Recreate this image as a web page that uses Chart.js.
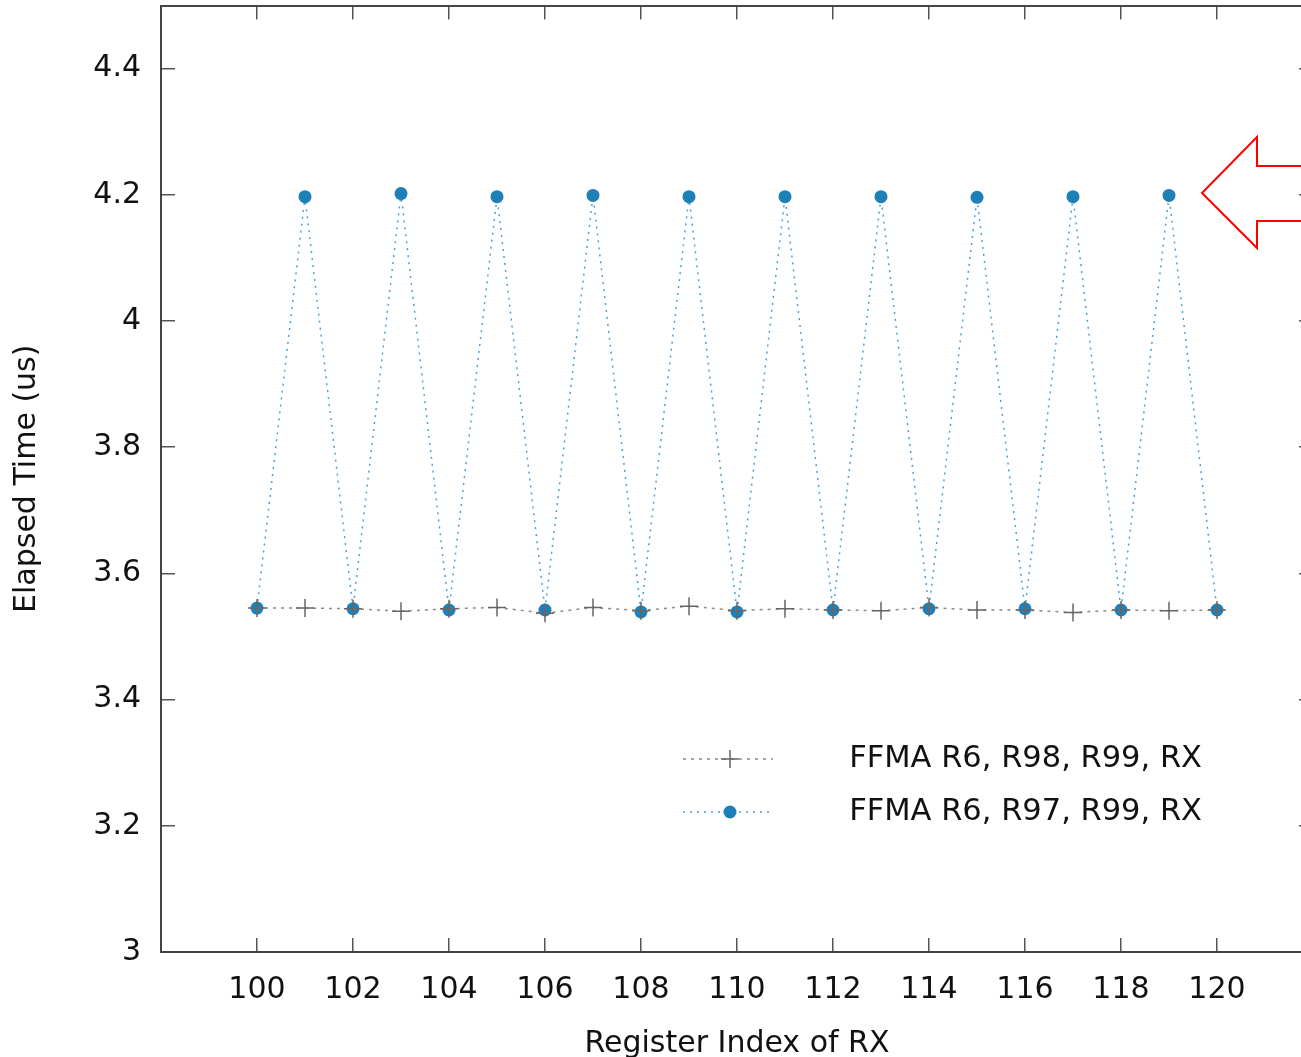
<!DOCTYPE html>
<html>
<head>
<meta charset="utf-8">
<script src="https://cdn.jsdelivr.net/npm/chart.js@4.4.0/dist/chart.umd.min.js"></script>
<style>
  html, body { margin: 0; padding: 0; overflow: hidden; background: #fff; }
  #wrap { width: 1330px; height: 1062px; margin-top: -5px; }
</style>
</head>
<body>
<div id="wrap"><canvas id="myChart"></canvas></div>
<script>
// register index on the x axis
const registers = [100, 101, 102, 103, 104, 105, 106, 107, 108, 109, 110,
                   111, 112, 113, 114, 115, 116, 117, 118, 119, 120]
// FFMA R6, R98, R99, RX
const timeR98 = [3.545, 3.545, 3.544, 3.540, 3.544, 3.546, 3.537, 3.546, 3.541, 3.548, 3.541,
                 3.544, 3.542, 3.541, 3.546, 3.542, 3.542, 3.538, 3.542, 3.541, 3.542]
// FFMA R6, R97, R99, RX
const timeR97 = [3.545, 4.197, 3.544, 4.202, 3.542, 4.197, 3.542, 4.199, 3.539, 4.197, 3.539,
                 4.197, 3.542, 4.197, 3.544, 4.196, 3.544, 4.197, 3.542, 4.199, 3.542]
const seriesNames = ['FFMA R6, R98, R99, RX', 'FFMA R6, R97, R99, RX']
const xTicks = [100, 102, 104, 106, 108, 110, 112, 114, 116, 118, 120]
const yTicks = [3, 3.2, 3.4, 3.6, 3.8, 4, 4.2, 4.4]

const font = { family: 'DejaVu Sans', size: 30 }
const textColor = '#111'
const axisColor = '#555'
const grayLine = '#8c8c8c'
const grayMark = '#666'
const blueLine = '#4b9fd2'
const blueMark = '#1f7fb8'

const pts = (ys) => registers.map((x, i) => ({ x: x, y: ys[i] }))

function axisGrid() {
    return { display: true, drawOnChartArea: false, drawTicks: true, tickLength: -14, color: axisColor, lineWidth: 1.5 }
}
const border = { display: true, color: '#444', width: 2 }

function fixW(w) {
    return s => { s.width = w; s.paddingTop = 0; s.paddingBottom = 0 }
}
function fixH(h) {
    return s => { s.height = h; s.paddingLeft = 0; s.paddingRight = 0 }
}

// legend inside the plot + the red arrow, drawn on top
const overlay = {
    id: 'overlay',
    afterDraw(chart) {
        const ctx = chart.ctx
        ctx.save()
        ctx.translate(0, 5) // canvas is shifted up 5px by css
        const rows = [
            { y: 759, line: grayLine, mark: 'cross', dash: [3, 5] },
            { y: 812, line: blueLine, mark: 'dot', dash: [2, 5] },
        ]
        rows.forEach((r, i) => {
            ctx.setLineDash(r.dash)
            ctx.strokeStyle = r.line
            ctx.lineWidth = 1.5
            ctx.beginPath()
            ctx.moveTo(683, r.y)
            ctx.lineTo(773, r.y)
            ctx.stroke()
            ctx.setLineDash([])
            if (r.mark === 'cross') {
                ctx.strokeStyle = grayMark
                ctx.beginPath()
                ctx.moveTo(721, r.y); ctx.lineTo(739, r.y)
                ctx.moveTo(730, r.y - 9); ctx.lineTo(730, r.y + 9)
                ctx.stroke()
            } else {
                ctx.fillStyle = blueMark
                ctx.beginPath()
                ctx.arc(730, r.y, 6.5, 0, Math.PI * 2)
                ctx.fill()
            }
            ctx.fillStyle = textColor
            ctx.font = '30.5px "DejaVu Sans"'
            ctx.textAlign = 'right'
            ctx.textBaseline = 'middle'
            ctx.fillText(seriesNames[i], 1202, r.y)
        })
        // red outline arrow
        ctx.strokeStyle = '#ff0000'
        ctx.lineWidth = 2
        ctx.beginPath()
        ctx.moveTo(1340, 166)
        ctx.lineTo(1257, 166)
        ctx.lineTo(1257, 137)
        ctx.lineTo(1202, 193)
        ctx.lineTo(1257, 248)
        ctx.lineTo(1257, 221)
        ctx.lineTo(1340, 221)
        ctx.stroke()
        ctx.restore()
    }
}

const chart = new Chart(document.getElementById('myChart'), {
    type: 'line',
    data: {
        datasets: [{
            label: seriesNames[0],
            data: pts(timeR98),
            borderColor: grayLine,
            borderWidth: 1.5,
            borderDash: [3, 5],
            pointStyle: 'cross',
            pointRadius: 9,
            pointBorderColor: grayMark,
            pointBorderWidth: 1.5,
            tension: 0,
        }, {
            label: seriesNames[1],
            data: pts(timeR97),
            borderColor: blueLine,
            borderWidth: 1.5,
            borderDash: [2, 5],
            pointStyle: 'circle',
            pointRadius: 6.5,
            pointBackgroundColor: blueMark,
            pointBorderColor: blueMark,
            pointBorderWidth: 0,
            tension: 0,
        }]
    },
    options: {
        responsive: true,
        maintainAspectRatio: false,
        animation: false,
        layout: { padding: 0 },
        plugins: { legend: { display: false }, tooltip: { enabled: false } },
        scales: {
            x: {
                type: 'linear', position: 'bottom', min: 98, max: 122,
                grid: axisGrid(), border: border,
                afterBuildTicks: s => { s.ticks = xTicks.map(v => ({ value: v })) },
                afterFit: fixH(105),
                ticks: { font: font, color: textColor, padding: 34, maxRotation: 0, autoSkip: false },
                title: { display: true, text: 'Register Index of RX', font: font, color: textColor, padding: { top: 0, bottom: -5 } },
            },
            x2: {
                type: 'linear', position: 'top', min: 98, max: 122,
                grid: axisGrid(), border: border,
                afterBuildTicks: s => { s.ticks = xTicks.map(v => ({ value: v })) },
                afterFit: fixH(6),
                ticks: { display: false },
            },
            y: {
                type: 'linear', position: 'left', min: 3, max: 4.5,
                grid: axisGrid(), border: border,
                afterBuildTicks: s => { s.ticks = yTicks.map(v => ({ value: v })) },
                afterFit: fixW(161),
                ticks: { font: font, color: textColor, padding: 34, autoSkip: false,
                         callback: v => String(Math.round(v * 10) / 10) },
                title: { display: true, text: 'Elapsed Time (us)', font: font, color: textColor, padding: { top: 9, bottom: 0 } },
            },
            y2: {
                type: 'linear', position: 'right', min: 3, max: 4.5,
                grid: axisGrid(), border: border,
                afterBuildTicks: s => { s.ticks = yTicks.map(v => ({ value: v })) },
                afterFit: fixW(17),
                ticks: { display: false },
            },
        }
    },
    plugins: [overlay]
})
</script>
</body>
</html>
